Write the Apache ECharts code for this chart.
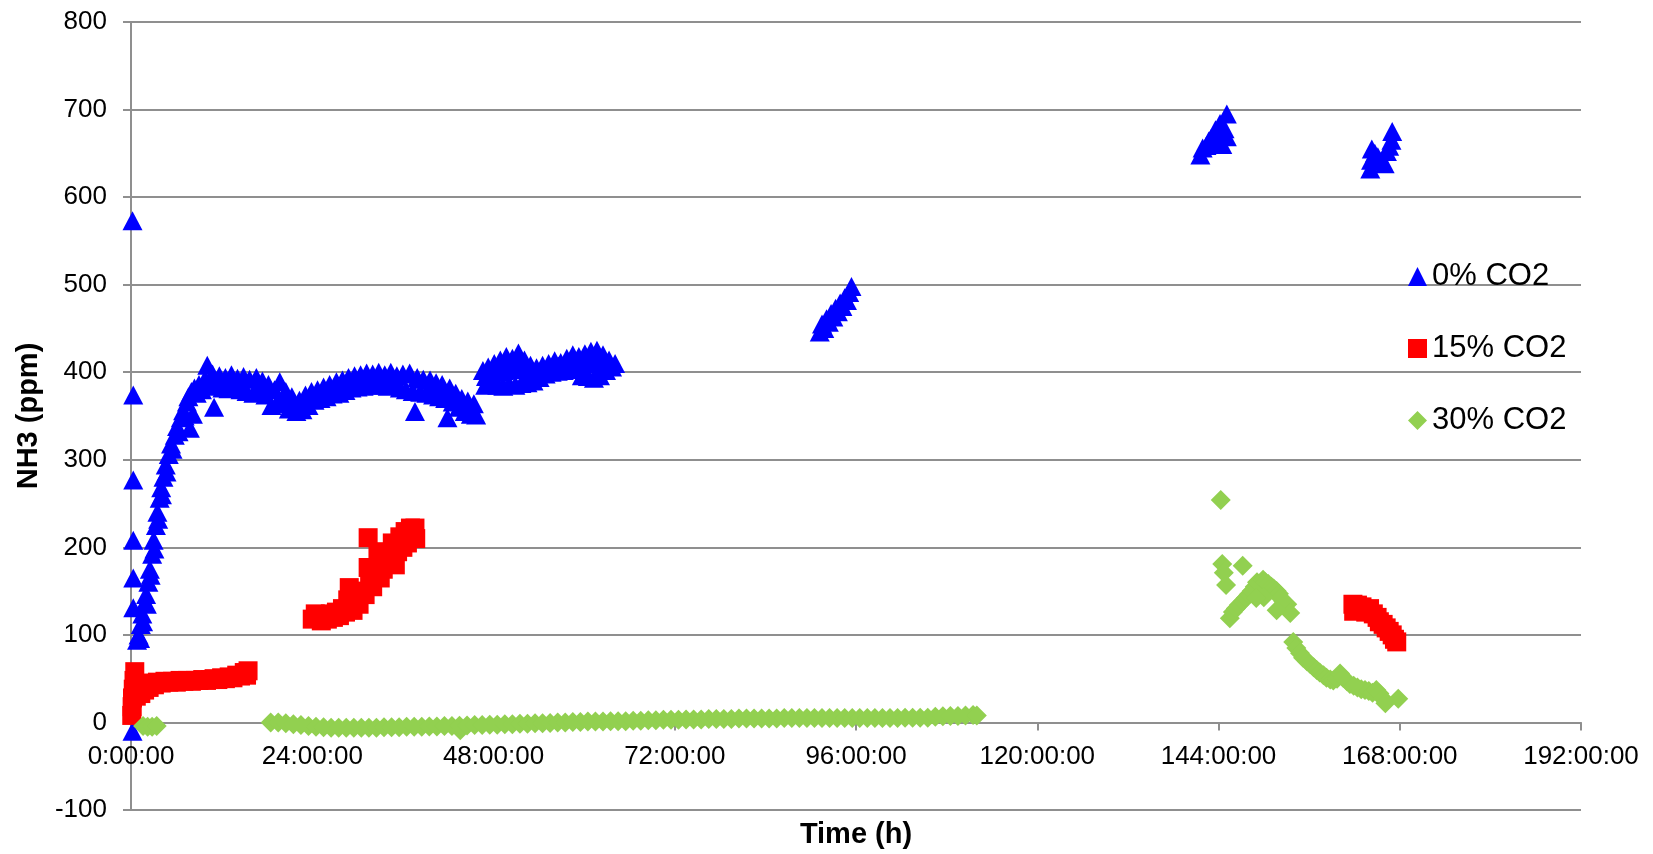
<!DOCTYPE html>
<html>
<head>
<meta charset="utf-8">
<script src="https://cdn.jsdelivr.net/npm/echarts@6/dist/echarts.min.js"></script>
<style>
  html, body { margin: 0; padding: 0; background: #fff; }
  #main { width: 1653px; height: 854px; }
</style>
</head>
<body>
<div id="main"></div>
<script>
// time in hours, NH3 in ppm
var co2_0 = [
  [0.2,573],[0.3,374],[0.3,277],[0.3,208],[0.3,165],[0.3,131],[0.2,-10],
  [0.8,94],[1.0,100],[1.2,96],[1.3,112],[1.5,124],[1.6,115],[1.8,136],[2.0,146],[2.1,135],[2.3,160],[2.5,175],[2.6,168],
  [2.8,192],[3.0,208],[3.1,198],[3.3,225],[3.5,240],[3.6,232],[3.8,256],[4.0,268],[4.1,260],[4.3,280],[4.6,294],[4.7,286],
  [5.0,306],[5.3,318],[5.5,312],[5.8,328],[6.1,338],[6.3,332],[6.6,348],[6.9,356],[7.1,350],[7.4,366],[7.6,372],[7.8,336],
  [8.0,378],[8.2,352],[8.4,382],[8.7,376],[9.0,386],[9.4,380],[9.8,392],
  [10.1,408],[10.4,384],[10.8,398],[11.0,360],[11.3,385],[11.7,396],[12.1,382],[12.5,394],[12.9,381],[13.3,397],[13.7,383],
  [14.1,393],[14.5,380],[14.9,395],[15.3,378],[15.7,392],[16.2,376],[16.6,394],[17.0,378],[17.4,390],[17.8,374],[18.2,386],
  [18.6,362],[19.0,380],[19.4,366],[19.7,389],[20.1,364],[20.5,378],[20.9,358],[21.3,372],[21.9,355],[22.3,368],[22.7,357],
  [23.1,374],[23.5,362],[23.9,378],[24.3,368],[24.7,380],[25.1,370],[25.5,383],[25.9,372],[26.3,386],[26.7,375],[27.2,389],
  [27.6,376],[28.0,391],[28.4,379],[28.8,394],[29.2,382],[29.6,396],[30.0,383],[30.4,397],[30.8,384],[31.2,399],[31.6,385],
  [32.0,398],[32.4,386],[32.8,400],[33.2,385],[33.6,397],[34.0,384],[34.4,400],[34.8,386],[35.2,396],[35.6,382],[36.0,398],
  [36.4,380],[36.9,399],[37.3,378],[37.6,355],[37.9,394],[38.3,377],[38.7,392],[39.1,376],[39.6,391],[40.0,374],[40.4,388],
  [40.8,372],[41.2,386],[41.6,370],[41.9,348],[42.2,382],[42.6,366],[43.0,376],[43.4,360],[43.8,370],[44.2,355],[44.6,367],
  [45.0,352],[45.4,364],[45.7,351],
  [46.6,402],[46.9,385],[47.0,395],[47.3,406],[47.7,386],[47.8,398],[48.1,410],[48.5,385],[48.6,400],[48.9,414],[49.3,384],
  [49.4,402],[49.7,418],[50.1,386],[50.2,404],[50.5,416],[50.9,385],[51.0,403],[51.3,422],[51.7,387],[51.8,405],[52.1,414],
  [52.5,388],[52.6,400],[52.9,408],[53.3,390],[53.4,398],[53.7,405],[54.1,394],[54.2,401],[54.5,408],[54.9,398],[55.0,404],
  [55.3,410],[55.7,400],[55.8,406],[56.1,413],[56.5,401],[56.6,407],[56.9,411],[57.3,402],[57.4,409],[57.7,416],[58.1,403],
  [58.2,411],[58.5,420],[58.9,404],[59.0,412],[59.3,418],[59.7,396],[59.8,410],[60.1,421],[60.5,395],[60.6,410],[60.9,424],
  [61.3,393],[61.4,410],[61.7,425],[62.1,396],[62.2,408],[62.5,420],[62.9,402],[63.0,410],[63.3,414],[63.7,406],[64.1,410],
  [91.2,446],[91.5,455],[91.8,450],[92.1,461],[92.4,457],[92.7,467],[93.0,463],[93.3,473],[93.6,469],[93.9,479],[94.2,475],
  [94.5,485],[94.8,482],[95.1,491],[95.4,498],
  [141.6,648],[141.9,656],[142.4,659],[142.7,664],[143.0,667],[143.3,662],[143.6,677],[143.9,671],[144.2,684],[144.5,660],
  [144.8,678],[145.1,695],[145.1,669],
  [164.1,632],[164.2,642],[164.3,655],[164.7,650],[165.1,646],[165.5,641],[166.0,638],[166.3,652],[166.6,658],[166.9,665],
  [167.0,675]
];

var co2_15 = [
  [0.1,8],[0.15,18],[0.2,28],[0.3,38],[0.4,48],[0.5,58],[0.6,44],[0.7,30],[0.9,36],[1.1,40],[1.3,33],[1.5,42],[1.8,37],
  [2.0,44],[2.4,40],[2.7,45],[3.1,43],[3.5,46],[4.0,45],[4.5,47],[5.0,46],[5.5,47],[6.0,46],[6.5,48],[7.0,47],[7.5,48],
  [8.0,47],[8.5,48],[9.0,48],[9.5,49],[10.0,48],[10.5,49],[11.0,50],[11.5,49],[12.0,51],[12.5,50],[13.0,52],[13.5,51],
  [14.0,54],[14.5,53],[15.0,57],[15.3,54],[15.5,59],
  [24.0,118],[24.4,124],[24.8,120],[25.2,116],[25.6,122],[26.0,118],[26.4,124],[26.8,120],[27.2,126],[27.6,122],[28.0,130],
  [28.4,126],[28.7,140],[28.9,154],[29.0,133],[29.4,128],[29.8,140],[30.2,135],[30.6,150],[31.0,146],[31.4,177],[31.4,211],
  [31.6,160],[32.0,155],[32.3,172],[32.7,190],[33.0,165],[33.4,175],[33.8,195],[34.2,185],[34.6,205],[35.0,180],[35.3,195],
  [35.6,212],[36.0,200],[36.3,218],[36.6,205],[37.0,222],[37.3,212],[37.6,222],[37.7,210],
  [161.8,135],[161.9,127],[162.4,134],[163.0,132],[163.5,126],[164.0,130],[164.5,124],[165.0,120],[165.3,115],[165.8,112],
  [166.2,108],[166.6,104],[167.0,100],[167.3,95],[167.6,92]
];

var co2_30 = [
  [1.6,-4],[2.2,-5],[2.8,-5],[3.4,-4],
  [18.5,0],[19.5,0],[20.5,-1],[21.5,-2],[22.5,-3],[23.5,-4],[24.5,-5],[25.5,-5.5],[26.5,-6],[27.5,-6],[28.5,-6],[29.5,-6],
  [30.5,-6],[31.5,-6],[32.5,-6],[33.5,-5.5],[34.5,-5.5],[35.5,-5.5],[36.5,-5],[37.5,-5],[38.5,-5],[39.5,-4.5],[40.5,-4.5],
  [41.5,-4],[42.5,-4],[43.5,-3.7],[43.6,-9],[44.5,-3.5],[45.5,-3],[46.5,-3],[47.5,-2.5],[48.5,-2.5],[49.5,-2],[50.5,-2],
  [51.5,-1.5],[52.5,-1.5],[53.5,-1],[54.5,-1],[55.5,-0.5],[56.5,0],[57.5,0],[58.5,0.5],[59.5,0.5],[60.5,1],[61.5,1],
  [62.5,1],[63.5,1.5],[64.5,1.5],[65.5,1.5],[66.5,2],[67.5,2],[68.5,2.5],[69.5,2.5],[70.5,3],[71.5,3],[72.5,3],[73.5,3.5],
  [74.5,3.5],[75.5,3.5],[76.5,4],[77.5,4],[78.5,4],[79.5,4],[80.5,4.5],[81.5,4.5],[82.5,4.5],[83.5,4.5],[84.5,4.5],
  [85.5,4.5],[86.5,5],[87.5,5],[88.5,5],[89.5,5],[90.5,5],[91.5,5],[92.5,5],[93.5,5],[94.5,5],[95.5,5],[96.5,5],[97.5,5],
  [98.5,5],[99.5,5],[100.5,5],[101.5,5],[102.5,5.5],[103.5,5.5],[104.5,5.5],[105.5,5.5],[106.5,6.5],[107.5,7],[108.5,7.5],
  [109.5,7.5],[110.5,8],[111.5,8.5],[112.0,8],
  [144.3,254],[144.5,181],[144.7,171],[145.0,157],[147.2,179],
  [145.5,119],[145.9,126],[146.3,130],[146.7,134],[147.2,138],[147.6,142],[148.0,146],[148.4,150],[148.8,155],[149.1,160],
  [149.5,158],[149.9,163],[150.2,160],[150.6,158],[151.0,155],[151.3,153],[151.7,150],[152.0,147],[152.2,142],[152.6,138],
  [153.1,135],[153.5,125],[151.7,128],[150.0,143],[149.0,142],
  [153.9,92],[154.3,85],[154.8,79],[155.2,74],[155.7,70],[156.1,67],[156.6,63],[157.0,60],[157.4,57],[157.9,54],[158.3,51],
  [158.8,49],[159.2,48],[159.7,50],[160.1,56],[160.5,51],[161.0,47],[161.4,44],[161.9,42],[162.4,40],[162.9,38],[163.4,37],
  [163.9,36],[164.4,34],[164.9,37],[165.3,33],[165.8,27],[166.1,22],[167.8,27]
];

var xTickLabels = ['0:00:00','24:00:00','48:00:00','72:00:00','96:00:00','120:00:00','144:00:00','168:00:00','192:00:00'];
var seriesNames = ['0% CO2', '15% CO2', '30% CO2'];

var font = "'Liberation Sans', Arial, sans-serif";
var gridGray = '#8f8f8f';

var myChart = echarts.init(document.getElementById('main'));

var option = {
  animation: false,
  backgroundColor: '#ffffff',
  grid: { left: 131, right: 72, top: 22, bottom: 44, outerBoundsMode: 'none', containLabel: false },
  legend: {
    orient: 'vertical',
    left: 1403,
    top: 256,
    itemWidth: 19,
    itemHeight: 19,
    itemGap: 41,
    selectedMode: false,
    textStyle: { fontFamily: font, fontSize: 31, color: '#000', lineHeight: 31 },
    data: [
      { name: seriesNames[0], icon: 'triangle' },
      { name: seriesNames[1], icon: 'rect' },
      { name: seriesNames[2], icon: 'diamond' }
    ]
  },
  xAxis: {
    type: 'value',
    min: 0,
    max: 192,
    interval: 24,
    name: 'Time (h)',
    nameLocation: 'middle',
    nameGap: 10,
    nameTextStyle: { fontFamily: font, fontSize: 29, fontWeight: 'bold', color: '#000' },
    axisLine: { show: true, onZero: true, lineStyle: { color: gridGray, width: 2 } },
    axisTick: { show: true, length: 8, lineStyle: { color: gridGray, width: 2 } },
    axisLabel: {
      fontFamily: font, fontSize: 26, color: '#000', margin: -66,
      formatter: function (v) { return xTickLabels[Math.round(v / 24)]; }
    },
    splitLine: { show: false }
  },
  yAxis: {
    type: 'value',
    min: -100,
    max: 800,
    interval: 100,
    name: 'NH3 (ppm)',
    nameLocation: 'middle',
    nameGap: 88,
    nameTextStyle: { fontFamily: font, fontSize: 29, fontWeight: 'bold', color: '#000' },
    axisLine: { show: true, lineStyle: { color: gridGray, width: 2 } },
    axisTick: { show: true, length: 8, lineStyle: { color: gridGray, width: 2 } },
    axisLabel: { fontFamily: font, fontSize: 26, color: '#000', margin: 24 },
    splitLine: { show: true, lineStyle: { color: gridGray, width: 2 } }
  },
  series: [
    {
      name: seriesNames[0], type: 'scatter', data: co2_0,
      symbol: 'triangle', symbolSize: [20, 19],
      itemStyle: { color: '#0000ff', opacity: 1 }, emphasis: { disabled: true }
    },
    {
      name: seriesNames[1], type: 'scatter', data: co2_15,
      symbol: 'rect', symbolSize: 19,
      itemStyle: { color: '#ff0000', opacity: 1 }, emphasis: { disabled: true }
    },
    {
      name: seriesNames[2], type: 'scatter', data: co2_30,
      symbol: 'diamond', symbolSize: 20,
      itemStyle: { color: '#92d050', opacity: 1 }, emphasis: { disabled: true }
    }
  ]
};

myChart.setOption(option);
</script>
</body>
</html>
